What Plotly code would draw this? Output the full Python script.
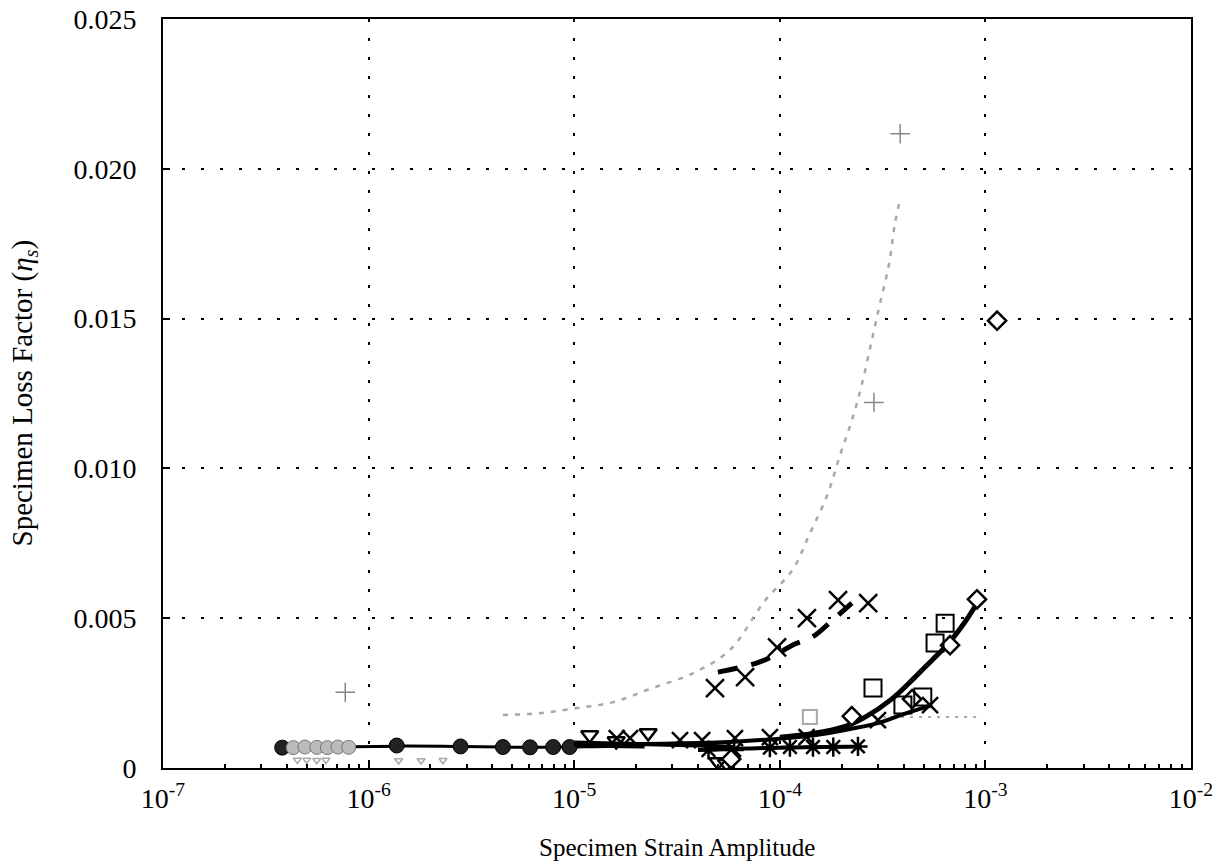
import plotly.graph_objects as go

# ---------------- data ----------------
# gray dotted curve (rising branch)
gray_curve_x = [4.5e-6, 6.8e-6, 1.03e-5, 1.55e-5, 2.4e-5, 3.8e-5, 5.7e-5, 8.5e-5, 1.15e-4,
                1.4e-4, 1.7e-4, 1.96e-4, 2.24e-4, 2.5e-4, 2.8e-4, 3.07e-4, 3.4e-4, 3.63e-4, 3.85e-4]
gray_curve_y = [0.00177, 0.00183, 0.0020, 0.0022, 0.00267, 0.00317, 0.00393, 0.0056, 0.0066,
                0.00783, 0.0091, 0.01043, 0.0116, 0.01277, 0.01427, 0.0155, 0.01683, 0.01817, 0.0190]
# gray "+" markers
gray_plus_x = [7.7e-7, 2.87e-4, 3.85e-4]
gray_plus_y = [0.00253, 0.0122, 0.02117]

# upper "x" series and its dashed fit
xup_x = [4.84e-5, 6.78e-5, 9.7e-5, 1.355e-4, 1.92e-4, 2.69e-4]
xup_y = [0.00267, 0.00303, 0.00403, 0.0050, 0.0056, 0.0055]
xup_fit_x = [5.0e-5, 7.7e-5, 9.7e-5, 1.15e-4, 1.46e-4, 1.78e-4, 2.24e-4]
xup_fit_y = [0.0032, 0.0035, 0.0038, 0.0041, 0.0044, 0.0049, 0.0055]

# filled circles (black) and gray circles
circ_x = [3.8e-7, 1.37e-6, 2.8e-6, 4.5e-6, 6.1e-6, 7.9e-6, 9.5e-6]
circ_y = [0.00068, 0.00075, 0.00072, 0.0007, 0.00069, 0.0007, 0.0007]
circ_line_x = [3.8e-7, 1.37e-6, 2.8e-6, 4.5e-6, 6.1e-6, 7.9e-6, 9.5e-6, 1.5e-5, 2.2e-5]
circ_line_y = [0.00068, 0.00073, 0.00072, 0.0007, 0.00069, 0.0007, 0.0007, 0.00072, 0.0007]
gcirc_x = [4.3e-7, 4.9e-7, 5.6e-7, 6.3e-7, 7.1e-7, 8.0e-7]
gcirc_y = [0.00068, 0.0007, 0.00069, 0.00068, 0.0007, 0.00069]
gtri_x = [4.5e-7, 5.0e-7, 5.6e-7, 6.2e-7, 1.4e-6, 1.8e-6, 2.3e-6]
gtri_y = [0.00027, 0.00027, 0.00026, 0.00027, 0.00025, 0.00025, 0.00026]

# open down-triangles
tri_x = [1.19e-5, 1.6e-5, 2.29e-5, 5.0e-5, 5.5e-5]
tri_y = [0.0011, 0.0009, 0.00117, 0.0002, 0.00015]
tri_fit_x = [1.0e-5, 2.0e-5, 4.0e-5, 6.0e-5]
tri_fit_y = [0.00085, 0.0008, 0.00075, 0.0007]

# lower "x" series and its fit
xlo_x = [1.61e-5, 1.87e-5, 3.27e-5, 4.19e-5, 6.05e-5, 8.95e-5, 1.35e-4, 3.0e-4, 5.38e-4]
xlo_y = [0.0010, 0.0010, 0.00093, 0.00093, 0.0010, 0.00103, 0.00103, 0.0016, 0.0021]
xlo_fit_x = [1.0e-5, 3.0e-5, 6.0e-5, 1.0e-4, 1.5e-4, 2.2e-4, 3.0e-4, 4.0e-4, 5.5e-4]
xlo_fit_y = [0.00078, 0.00082, 0.00088, 0.00098, 0.0011, 0.0013, 0.0015, 0.0018, 0.0021]

# asterisks
ast_x = [4.5e-5, 6.0e-5, 8.95e-5, 1.12e-4, 1.45e-4, 1.82e-4, 2.4e-4]
ast_y = [0.0006, 0.0006, 0.00068, 0.0007, 0.0007, 0.0007, 0.00072]
ast_fit_x = [4.0e-5, 1.0e-4, 2.5e-4]
ast_fit_y = [0.0006, 0.00068, 0.00072]

# open squares
sq_x = [2.84e-4, 3.97e-4, 4.96e-4, 5.69e-4, 6.37e-4]
sq_y = [0.00267, 0.0021, 0.00237, 0.00417, 0.00483]

# open diamonds and fit
dia_x = [5.8e-5, 2.24e-4, 4.4e-4, 6.73e-4, 9.1e-4, 1.14e-3]
dia_y = [0.0003, 0.00173, 0.0023, 0.0041, 0.00563, 0.01493]
dia_fit_x = [1.0e-4, 1.45e-4, 2.1e-4, 2.6e-4, 3.5e-4, 4.5e-4, 5.5e-4, 6.5e-4, 8.0e-4, 9.3e-4]
dia_fit_y = [0.00103, 0.00115, 0.0014, 0.0017, 0.0023, 0.0030, 0.0036, 0.0041, 0.0049, 0.0056]

# gray squares + gray dotted level line
gsq_x = [1.4e-4]
gsq_y = [0.0017]
glev_x = [2.6e-4, 9.6e-4]
glev_y = [0.0017, 0.0017]

x_tickvals = [1e-7, 1e-6, 1e-5, 1e-4, 1e-3, 1e-2]
x_ticktext = ["10<sup>-7</sup>", "10<sup>-6</sup>", "10<sup>-5</sup>",
              "10<sup>-4</sup>", "10<sup>-3</sup>", "10<sup>-2</sup>"]
y_tickvals = [0, 0.005, 0.010, 0.015, 0.020, 0.025]
y_ticktext = ["0", "0.005", "0.010", "0.015", "0.020", "0.025"]

x_title = "Specimen Strain Amplitude"
y_title = "Specimen Loss Factor (<i>η<sub>s</sub></i>)"

# ---------------- figure ----------------
fig = go.Figure()
GRAY = "#a8a8a8"

def line(x, y, color="black", width=3, dash="solid"):
    fig.add_trace(go.Scatter(x=x, y=y, mode="lines",
                             line=dict(color=color, width=width, dash=dash, shape="spline"),
                             hoverinfo="skip"))

def marks(x, y, symbol, size, color="black", lw=2, fill=None):
    fig.add_trace(go.Scatter(x=x, y=y, mode="markers",
                             marker=dict(symbol=symbol, size=size, color=fill or color,
                                         line=dict(color=color, width=lw))))

# gray curve
line(gray_curve_x, gray_curve_y, color=GRAY, width=2.5, dash="5px,7px")
marks(gray_plus_x, gray_plus_y, "cross-thin-open", 14, color="#888", lw=1.5)

# gray level + gray square
line(glev_x, glev_y, color=GRAY, width=2, dash="3px,6px")
marks(gsq_x, gsq_y, "square-open", 14, color=GRAY, lw=2)

# circles
line(circ_line_x, circ_line_y, color="black", width=3)
marks(circ_x, circ_y, "circle", 15, color="black", lw=1, fill="#222")
marks(gcirc_x, gcirc_y, "circle", 14, color="#777", lw=1, fill="#bbb")
marks(gtri_x, gtri_y, "triangle-down-open", 7, color=GRAY, lw=1.5)

# triangles
line(tri_fit_x, tri_fit_y, color="black", width=4)
marks(tri_x, tri_y, "triangle-down-open", 15, lw=2.5)

# lower x
line(xlo_fit_x, xlo_fit_y, color="black", width=4)
marks(xlo_x, xlo_y, "x-thin-open", 16, lw=2.5)

# asterisks
line(ast_fit_x, ast_fit_y, color="black", width=4)
marks(ast_x, ast_y, "asterisk-open", 16, lw=2.5)

# diamond fit + diamonds (white-filled so the outline stays black)
line(dia_fit_x, dia_fit_y, color="black", width=5)
marks(dia_x, dia_y, "diamond", 14, color="black", lw=2.5, fill="white")
marks(sq_x, sq_y, "square-open", 17, lw=2)

# upper x + dashed fit
line(xup_fit_x, xup_fit_y, color="black", width=5, dash="20px,14px")
marks(xup_x, xup_y, "x-thin-open", 18, lw=2.5)

FONT = "Liberation Serif"
minor_vals = [m * 10.0 ** e for e in range(-7, -2) for m in range(2, 10)]

fig.update_layout(
    width=1216, height=868,
    margin=dict(l=163, r=25, t=19, b=100),
    paper_bgcolor="white", plot_bgcolor="white",
    showlegend=False,
    font=dict(family=FONT, color="black", size=28),
    annotations=[
        dict(text=x_title, xref="paper", yref="paper", x=0.5, y=0, xanchor="center",
             yanchor="middle", yshift=-79, showarrow=False,
             font=dict(family=FONT, size=25, color="black")),
        dict(text=y_title, xref="paper", yref="paper", x=0, y=0.5, xanchor="center",
             yanchor="middle", xshift=-140, yshift=0, textangle=-90, showarrow=False,
             font=dict(family=FONT, size=29, color="black")),
    ],
)
grid_common = dict(showgrid=True, gridcolor="black", griddash="3px,16px", gridwidth=1.5,
                   showline=True, linecolor="black", linewidth=2, mirror=True,
                   ticks="inside", ticklen=7, tickwidth=1.5, tickcolor="black",
                   zeroline=False, automargin=False, ticklabeloverflow="allow",
                   tickfont=dict(family=FONT, size=28, color="black"))
fig.update_xaxes(type="log", range=[-7, -2], tickvals=x_tickvals, ticktext=x_ticktext,
                 minor=dict(tickvals=minor_vals, ticks="inside", ticklen=4, tickcolor="black",
                            showgrid=False),
                 ticklabelstandoff=4,
                 **grid_common)
fig.update_yaxes(range=[0, 0.025], tickvals=y_tickvals, ticktext=y_ticktext,
                 ticklabelstandoff=19,
                 **grid_common)

# remove the default 8px page margin so the figure fills the window exactly
fig.write_html("out.html", config={"displayModeBar": False},
               post_script="document.body.style.margin='0';document.body.style.overflow='hidden';")
